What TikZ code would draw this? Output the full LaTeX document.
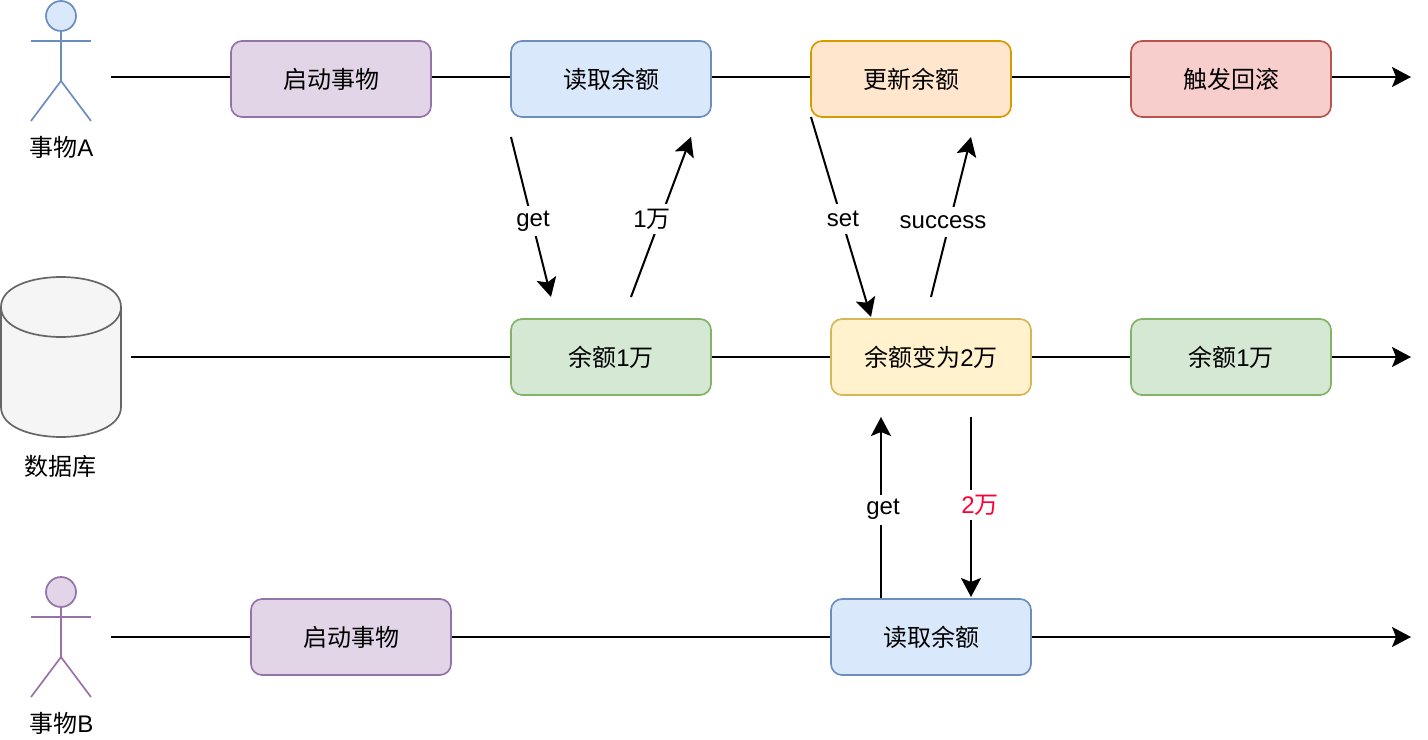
\documentclass[tikz,border=0pt]{standalone}
\usepackage{fontspec}
\setmainfont{Liberation Sans}
\newfontfamily\cjk{Noto Sans CJK SC}
\usetikzlibrary{arrows.meta,calc}
\definecolor{purplefill}{HTML}{E1D5E7}
\definecolor{purpleline}{HTML}{9673A6}
\definecolor{bluefill}{HTML}{DAE8FC}
\definecolor{blueline}{HTML}{6C8EBF}
\definecolor{orangefill}{HTML}{FFE6CC}
\definecolor{orangeline}{HTML}{D79B00}
\definecolor{redfill}{HTML}{F8CECC}
\definecolor{redline}{HTML}{B85450}
\definecolor{greenfill}{HTML}{D5E8D4}
\definecolor{greenline}{HTML}{82B366}
\definecolor{yellowfill}{HTML}{FFF2CC}
\definecolor{yellowline}{HTML}{D6B656}
\definecolor{dbfill}{HTML}{F5F5F5}
\definecolor{dbline}{HTML}{666666}
\definecolor{labelred}{HTML}{FF0033}
\newcommand{\zh}[1]{{\cjk #1}}

\begin{document}
\begin{tikzpicture}[
    x=0.02cm, y=-0.02cm,
    every node/.style={font=\fontsize{13.66}{16}\selectfont},
    box/.style={rectangle, draw, line width=0.034cm, rounded corners=0.22cm, minimum width=4cm, minimum height=1.52cm, inner sep=0pt},
    purplebox/.style={box, fill=purplefill, draw=purpleline},
    bluebox/.style={box, fill=bluefill, draw=blueline},
    orangebox/.style={box, fill=orangefill, draw=orangeline},
    redbox/.style={box, fill=redfill, draw=redline},
    greenbox/.style={box, fill=greenfill, draw=greenline},
    yellowbox/.style={box, fill=yellowfill, draw=yellowline},
    dbshape/.style={draw=dbline, fill=dbfill, line width=0.034cm},
    line/.style={line width=0.04cm, black},
    arrow/.style={line, -{Stealth[length=0.38cm, width=0.4cm, inset=0.08cm]}},
    edgelabel/.style={fill=white, inner sep=1pt, minimum height=0.6cm},
    plain/.style={inner sep=0pt},
    head/.style={circle, draw, line width=0.034cm, minimum size=0.6cm, inner sep=0pt},
    limb/.style={line width=0.034cm}
]
\useasboundingbox (0,0) rectangle (1428,740);

% Actor A
\node[head, draw=blueline, fill=bluefill] (headA) at (61,16) {};
\coordinate (hipA) at (61,81);
\coordinate (armAl) at (31,41);
\coordinate (armAr) at (91,41);
\coordinate (legAl) at (31,121);
\coordinate (legAr) at (91,121);
\draw[limb, blueline] (headA) -- (hipA);
\draw[limb, blueline] (armAl) -- (armAr);
\draw[limb, blueline] (legAl) -- (hipA) -- (legAr);
\node[plain] (nameA) at (61.5,147) {\zh{事物}A};

% Database
\draw[dbshape] (1,307) .. controls (1,267) and (121,267) .. (121,307)
    -- (121,407) .. controls (121,447) and (1,447) .. (1,407) -- cycle;
\draw[dbshape, fill=none] (1,307) .. controls (1,347) and (121,347) .. (121,307);
\node[plain] (dbname) at (61,466) {\zh{数据库}};

% Actor B
\node[head, draw=purpleline, fill=purplefill] (headB) at (61,592) {};
\coordinate (hipB) at (61,657);
\coordinate (armBl) at (31,617);
\coordinate (armBr) at (91,617);
\coordinate (legBl) at (31,697);
\coordinate (legBr) at (91,697);
\draw[limb, purpleline] (headB) -- (hipB);
\draw[limb, purpleline] (armBl) -- (armBr);
\draw[limb, purpleline] (legBl) -- (hipB) -- (legBr);
\node[plain] (nameB) at (61.5,723) {\zh{事物}B};

% Row A
\node[purplebox] (startA) at (331,79) {\zh{启动事物}};
\node[bluebox] (readA) at (611,79) {\zh{读取余额}};
\node[orangebox] (updateA) at (911,79) {\zh{更新余额}};
\node[redbox] (rollback) at (1231,79) {\zh{触发回滚}};

% Row database
\node[greenbox] (balance) at (611,357) {\zh{余额}1\zh{万}};
\node[yellowbox] (changed) at (931,357) {\zh{余额变为}2\zh{万}};
\node[greenbox] (restored) at (1231,357) {\zh{余额}1\zh{万}};

% Row B
\node[purplebox] (startB) at (351,637) {\zh{启动事物}};
\node[bluebox] (readB) at (931,637) {\zh{读取余额}};

% Time lines
\coordinate (lineA) at (111,77);
\coordinate (endA) at (1411,77);
\coordinate (lineD) at (131,357);
\coordinate (endD) at (1411,357);
\coordinate (lineB) at (111,637);
\coordinate (endB) at (1411,637);

\draw[line] (lineA) -- (lineA -| startA.west);
\draw[line] (lineA -| startA.east) -- (lineA -| readA.west);
\draw[line] (lineA -| readA.east) -- (lineA -| updateA.west);
\draw[line] (lineA -| updateA.east) -- (lineA -| rollback.west);
\draw[arrow] (lineA -| rollback.east) -- (endA);

\draw[line] (lineD) -- (balance);
\draw[line] (balance) -- (changed);
\draw[line] (changed) -- (restored);
\draw[arrow] (restored) -- (endD);

\draw[line] (lineB) -- (startB);
\draw[line] (startB) -- (readB);
\draw[arrow] (readB) -- (endB);

% Requests
\coordinate (getfrom) at (511,137);
\coordinate (getto) at (551,297);
\coordinate (wanfrom) at (631,297);
\coordinate (wanto) at (691,137);
\coordinate (setfrom) at (811,117);
\coordinate (setto) at (871,317);
\coordinate (okfrom) at (931,297);
\coordinate (okto) at (971,137);
\coordinate (getBto) at (881,417);
\coordinate (twofrom) at (971,417);
\coordinate (twoto) at (971,597);

\draw[arrow] (getfrom) -- (getto) node[midway, edgelabel, xshift=0.04cm, yshift=-0.08cm] (getlabel) {get};
\draw[arrow] (wanfrom) -- (wanto) node[midway, edgelabel, xshift=-0.18cm, yshift=-0.04cm] (wanlabel) {1\zh{万}};
\draw[arrow] (setfrom) -- (setto) node[midway, edgelabel, xshift=0.04cm, yshift=-0.04cm] (setlabel) {set};
\draw[arrow] (okfrom) -- (okto) node[midway, edgelabel, xshift=-0.16cm, yshift=-0.1cm] (oklabel) {success};
\draw[arrow] (readB.north -| getBto) -- (getBto) node[midway, edgelabel, xshift=0.04cm, yshift=-0.04cm] (getBlabel) {get};
\draw[arrow] (twofrom) -- (twoto) node[midway, edgelabel, xshift=0.18cm, yshift=0.04cm, text=labelred] (twolabel) {2\zh{万}};

\end{tikzpicture}
\end{document}
